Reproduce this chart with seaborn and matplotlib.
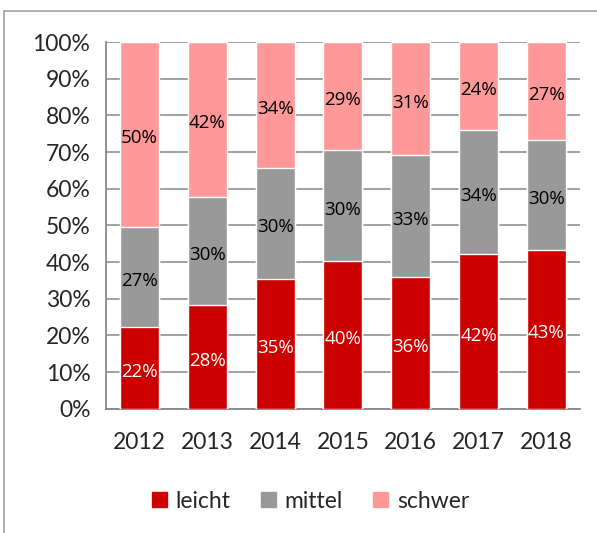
import numpy as np
import pandas as pd
import matplotlib
matplotlib.use("Agg")
import matplotlib.pyplot as plt
import seaborn as sns
from matplotlib.patches import Rectangle
from matplotlib.transforms import offset_copy

years = ["2012", "2013", "2014", "2015", "2016", "2017", "2018"]
leicht = [22.4, 28.3, 35.4, 40.2, 35.9, 42.1, 43.4]
mittel = [27.3, 29.5, 30.3, 30.4, 33.3, 34.0, 30.0]
schwer = [50.3, 42.2, 34.3, 29.4, 30.8, 23.9, 26.6]
series = ["leicht", "mittel", "schwer"]
colors = ["#CC0000", "#999999", "#FF9999"]


def run():
    sns.set_style("white")
    plt.rcParams["font.family"] = ["Lato", "DejaVu Sans"]

    df = pd.DataFrame({"Jahr": years, "leicht": leicht, "mittel": mittel, "schwer": schwer})
    # cumulative tops for stacking
    df["top_leicht"] = df["leicht"]
    df["top_mittel"] = df["leicht"] + df["mittel"]
    df["top_schwer"] = df["top_mittel"] + df["schwer"]

    fig = plt.figure(figsize=(5.97, 5.33), dpi=100)
    ax = fig.add_axes([0.177, 0.233, 0.795, 0.688])

    # draw back to front
    for name, col in zip(series[::-1], colors[::-1]):
        sns.barplot(data=df, x="Jahr", y="top_" + name, color=col, width=0.575,
                    saturation=1, ax=ax, zorder=3)

    # labels, nudged a bit down like excel does
    lab_tr = offset_copy(ax.transData, fig=fig, x=0, y=-4, units="dots")
    for i in range(len(years)):
        bottom = 0
        for name in series:
            v = df[name][i]
            txtcol = "white" if name == "leicht" else "black"
            ax.text(i, bottom + v / 2, "%d%%" % round(v), ha="center", va="center",
                    fontsize=13.5, color=txtcol, zorder=5, transform=lab_tr,
                    family=["Open Sans", "DejaVu Sans"])
            bottom += v

    ax.set_ylim(0, 100)
    ax.set_xlim(-0.5, len(years) - 0.5)
    ax.set_yticks(np.arange(0, 101, 10))
    ax.set_yticklabels(["%d%%" % t for t in range(0, 101, 10)], fontsize=16.5)
    ax.set_xticks(range(len(years)))
    ax.set_xticklabels(years, fontsize=16.5)
    ax.set_xticks(np.arange(-0.5, len(years)), minor=True)
    ax.tick_params(axis="x", which="major", length=0, pad=17)
    ax.tick_params(axis="x", which="minor", length=8, width=1.2, color="#888888")
    ax.tick_params(axis="y", length=9, width=1.2, color="#888888", pad=2)
    ax.set_xlabel("")
    ax.set_ylabel("")
    ax.yaxis.grid(True, color="#999999", linewidth=1.3, zorder=0)
    ax.set_axisbelow(True)
    for s in ["top", "right"]:
        ax.spines[s].set_visible(False)
    for s in ["left", "bottom"]:
        ax.spines[s].set_color("#888888")
        ax.spines[s].set_linewidth(1.3)

    handles = [Rectangle((0, 0), 1, 1, color=c) for c in colors]
    fig.legend(handles, series, loc="center", bbox_to_anchor=(0.52, 0.06), ncol=3,
               frameon=False, fontsize=16.5, handlelength=0.65, handleheight=0.65,
               columnspacing=1.3, handletextpad=0.4)

    # outer frame
    fig.patches.append(Rectangle((0.006, -0.01), 1.0, 0.99, transform=fig.transFigure,
                                 fill=False, edgecolor="#A0A0A0", linewidth=1.2))

    fig.savefig("out.png", dpi=100)


run()
